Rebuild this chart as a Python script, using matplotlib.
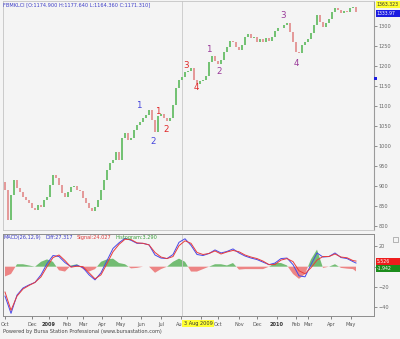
import numpy as np
import matplotlib.pyplot as plt
from matplotlib.patches import Rectangle

# FBMKLCI daily candles, Oct 2008 - May 2010 (one bar every few sessions)
closes = [890, 815, 877, 915, 895, 885, 872, 865, 857, 845,
          840, 852, 847, 865, 872, 902, 927, 920, 902, 882,
          872, 885, 897, 900, 890, 887, 870, 857, 845, 837,
          847, 865, 890, 915, 940, 957, 965, 985, 965, 1020,
          1032, 1015, 1020, 1040, 1052, 1060, 1070, 1077, 1090, 1065,
          1035, 1075, 1080, 1070, 1062, 1070, 1102, 1145, 1165, 1171.31,
          1185, 1187, 1195, 1165, 1155, 1162, 1165, 1175, 1210, 1225,
          1212, 1205, 1215, 1235, 1247, 1262, 1260, 1247, 1240, 1252,
          1272, 1280, 1270, 1272, 1260, 1267, 1260, 1270, 1262, 1272,
          1287, 1295, 1295, 1302, 1307, 1285, 1260, 1235, 1232, 1252,
          1260, 1267, 1282, 1302, 1327, 1310, 1297, 1307, 1317, 1335,
          1345, 1340, 1332, 1337, 1335, 1345, 1347, 1333.97]
first_open = 910

month_pos = [0, 9, 14.7, 20.7, 26, 32.3, 38.7, 45.3, 52, 58.7,
             65.3, 71, 78, 84, 90.7, 97, 101, 108.7, 115.3]
month_lbl = ['Oct', 'Dec', '2009', 'Feb', 'Mar', 'Apr', 'May', 'Jun', 'Jul', 'Aug',
             'Sep', 'Oct', 'Nov', 'Dec', '2010', 'Feb', 'Mar', 'Apr', 'May']

# MACD(26,12,9)
macd_pos = list(range(0, 117, 2)) + [117]
macd_diff = [-29, -46, -28, -21, -18, -15.5, -8, 3, 11, 10,
             4, 0, 1.5, -1, -8, -13, -6, 6, 18, 23.5,
             28, 26, 23, 23, 21.5, 11.5, 8.5, 8, 12, 24,
             27.5, 21, 12, 11, 13, 16.5, 13.5, 15, 17.5, 13.5,
             10.5, 8.5, 7, 4.5, 2, 3.6, 8, 8.5, 2, -9,
             -10, 2, 13.5, 9.5, 10, 13.5, 9, 8, 5, 3.584]
macd_signal = [-25, -43, -29, -22, -18.5, -15.5, -10, 0, 9, 11.5,
               6, -0.5, 0.5, 0, -6, -12, -8, 3, 14.7, 22,
               27, 26.7, 23.5, 23, 21.5, 14, 9.5, 8, 10, 20.7,
               25.5, 23, 14, 12, 13, 15.5, 12.5, 14.5, 16, 14.7,
               11.5, 9.5, 8, 5.5, 2, 2.1, 6.5, 8, 5, -4,
               -7, -1, 6.5, 10, 10, 12.5, 9.5, 8.8, 6, 5.526]

# Elliott wave counts
wave_x = [44.7, 49.3, 51, 53.7, 60.3, 63.7, 68, 71.3, 92.7, 97]
wave_y = [1100, 1010, 1085, 1042, 1202, 1145, 1240, 1187, 1325, 1207]
wave_txt = ['1', '2', '1', '2', '3', '4', '1', '2', '3', '4']
wave_col = ['#4646dc', '#4646dc', '#e02828', '#e02828', '#e02828', '#e02828',
            '#9a3a9a', '#9a3a9a', '#9a3a9a', '#9a3a9a']

cross_idx = 59
bg = '#f4f4f4'
tick_col = '#666666'
fs = 3.6

W, H = 400, 339
fig = plt.figure(figsize=(W / 100, H / 100), dpi=100, facecolor=bg)


def rect(x0, y0, x1, y1):
    return [x0 / W, 1 - y1 / H, (x1 - x0) / W, (y1 - y0) / H]


def fx(x):
    return x / W


def fy(y):
    return 1 - y / H


# ---- price panel
ax = fig.add_axes(rect(3, 1, 374, 230), facecolor=bg)
c = np.array(closes, dtype=float)
o = np.array([first_open] + closes[:-1], dtype=float)
idx = np.arange(len(c))
up = c >= o
ax.bar(idx[up], (c - o)[up], bottom=o[up], width=0.5, color='#74c274', edgecolor='none')
ax.bar(idx[~up], (o - c)[~up], bottom=c[~up], width=0.5, color='#e49a9a', edgecolor='none')
ax.axvline(cross_idx, color='#c8c8c8', lw=0.6, zorder=0)

for x, y, t, col in zip(wave_x, wave_y, wave_txt, wave_col):
    ax.text(x, y, t, color=col, fontsize=6.3, ha='center', va='center')

ax.set_xlim(-0.67, 123)
ax.set_ylim(790, 1362.5)
ax.yaxis.tick_right()
ax.set_yticks(np.arange(800, 1301, 50))
ax.tick_params(axis='y', labelsize=fs, colors=tick_col, length=2, width=0.5, pad=1.5)
ax.tick_params(axis='x', bottom=False, labelbottom=False)
for s in ['left', 'top', 'bottom']:
    ax.spines[s].set_color('#c4c4c4')
    ax.spines[s].set_linewidth(0.6)
ax.spines['right'].set_color('#9a9a9a')
ax.spines['right'].set_linewidth(0.8)

# ---- MACD panel: histogram on its own scale underneath the lines
hist_scale = 2.4
axh = fig.add_axes(rect(3, 234, 374, 316), facecolor=bg)
ax2 = fig.add_axes(rect(3, 234, 374, 316), sharex=ax)
ax2.patch.set_alpha(0)
ylo, yhi = -48.6, 32.2
hist = np.array(macd_diff) - np.array(macd_signal)
axh.fill_between(macd_pos, hist, 0, where=hist >= 0, interpolate=True,
                 color='#5cb35c', alpha=0.85, lw=0)
axh.fill_between(macd_pos, hist, 0, where=hist < 0, interpolate=True,
                 color='#ec7070', alpha=0.85, lw=0)
axh.set_xlim(-0.67, 123)
axh.set_ylim(ylo / hist_scale, yhi / hist_scale)
axh.axis('off')

ax2.plot(macd_pos, macd_diff, color='#4848e8', lw=0.7)
ax2.plot(macd_pos, macd_signal, color='#e83c3c', lw=0.7)
ax2.axvline(cross_idx, color='#c8c8c8', lw=0.6, zorder=0)
ax2.set_ylim(ylo, yhi)
ax2.yaxis.tick_right()
ax2.set_yticks([20, 0, -20, -40])
ax2.tick_params(axis='y', labelsize=fs, colors=tick_col, length=2, width=0.5, pad=1.5)
ax2.set_xticks(month_pos)
ax2.set_xticklabels(month_lbl)
ax2.tick_params(axis='x', labelsize=fs, colors='#555555', length=2, width=0.5, pad=2)
for lbl in ax2.get_xticklabels():
    if lbl.get_text() in ('2009', '2010'):
        lbl.set_fontweight('bold')
        lbl.set_color('#333333')
for s in ax2.spines.values():
    s.set_color('#8c8c8c')
    s.set_linewidth(0.7)

# ---- captions
fig.text(fx(3), fy(4.5), 'FBMKLCI [O:1174.900 H:1177.640 L:1164.360 C:1171.310]',
         color='#3c3cc8', fontsize=fs, va='center')
fig.text(fx(3), fy(237.5), 'MACD(26,12,9)', color='#3c3cc8', fontsize=fs, va='center')
fig.text(fx(45), fy(237.5), 'Diff:27.317', color='#3c3cc8', fontsize=fs, va='center')
fig.text(fx(77), fy(237.5), 'Signal:24.027', color='#e03c3c', fontsize=fs, va='center')
fig.text(fx(116), fy(237.5), 'Histogram:3.290', color='#3aa03a', fontsize=fs, va='center')
fig.text(fx(3), fy(331), 'Powered by Bursa Station Professional (www.bursastation.com)',
         color='#444444', fontsize=fs, va='center')

# value flags on the right edge
flags = [(1, 8, '#ffff33', '#333333', '1363.323'),
         (10, 17, '#1c1ce0', 'white', '1333.97'),
         (258, 265, '#ee1c1c', 'white', '5.526'),
         (265, 272, '#1c8c1c', 'white', '-1.942')]
for y0, y1, fc, tc, t in flags:
    fig.patches.append(Rectangle((fx(376), fy(y1)), fx(24), (y1 - y0) / H,
                                 transform=fig.transFigure, fc=fc, ec='none', zorder=5))
    fig.text(fx(376.5), fy((y0 + y1) / 2), t, color=tc, fontsize=3.3, va='center', zorder=6)
fig.patches.append(Rectangle((fx(374), fy(80)), fx(2.5), 3 / H,
                             transform=fig.transFigure, fc='#1c1ce0', ec='none', zorder=5))
fig.patches.append(Rectangle((fx(393), fy(242)), fx(5), 5 / H, transform=fig.transFigure,
                             fc='none', ec='#999999', lw=0.5, zorder=5))

fig.text(fx(198), fy(323.5), '3 Aug 2009', color='#333333', fontsize=fs, ha='center',
         va='center', zorder=6,
         bbox=dict(boxstyle='square,pad=0.25', fc='#ffff33', ec='none'))

fig.savefig('out.png', dpi=100, facecolor=bg)
